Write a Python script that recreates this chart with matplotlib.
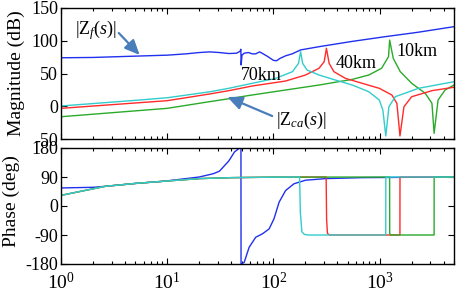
import matplotlib
matplotlib.use("Agg")
import matplotlib.pyplot as plt
import numpy as np

plt.rcParams['font.family'] = ['Liberation Serif', 'DejaVu Serif']
plt.rcParams['mathtext.fontset'] = 'custom'
plt.rcParams['mathtext.rm'] = 'Liberation Serif'
plt.rcParams['mathtext.it'] = 'Liberation Serif:italic'
plt.rcParams['axes.unicode_minus'] = False

# ---------------- data ----------------
# |Zf(s)| magnitude (blue)
f_zf = [1, 2, 5, 10, 15, 20, 25, 31, 38, 45, 48.5, 49.3, 49.6, 50.5, 53, 58, 63, 68, 74,
        80, 88, 100, 107, 115, 130, 150, 180, 270, 550, 1100, 2300, 5000]
m_zf = [74, 74.5, 76.5, 78, 80, 82, 83, 82, 80.5, 81, 84, 87, 63, 78, 81, 82, 80, 80, 83,
        80, 76, 70, 69.5, 73, 77, 80, 86, 91, 99, 106, 113, 121.5]

# |Zca(s)| magnitude, 70 km (cyan)
f_70 = [1, 5.5, 10, 25, 38, 63, 105, 151, 172, 180, 188, 207, 268, 383, 551, 788, 990,
        1070, 1140, 1220, 1400, 2320, 5000]
m_70 = [0.4, 9.5, 13, 22, 27.4, 35, 42.6, 52.8, 65.5, 83.3, 65.5, 55.3, 47.7, 40, 32.4,
        22.2, 9.5, -5.7, -45.4, -0.7, 14.6, 27.4, 37.5]

# 40 km (red)
f_40 = [1, 10, 25, 38, 63, 130, 200, 268, 300, 315, 334, 370, 475, 685, 990, 1300, 1450,
        1550, 1690, 2000, 3100, 5000]
m_40 = [-3.2, 8.5, 18.7, 23.8, 30.9, 38.5, 47.7, 57.9, 68, 88.5, 65.5, 52.8, 42.6, 35,
        27.4, 17.2, 4.5, -45.4, -0.7, 14.6, 23.8, 29]

# 10 km (green)
f_10 = [1, 10, 25, 38, 63, 130, 268, 551, 788, 1040, 1210, 1240, 1340, 1560, 2000, 2680,
        3100, 3250, 3540, 4120, 5000]
m_10 = [-16, -3.2, 7, 11.5, 17.2, 24.8, 32.4, 41, 47.7, 57.9, 75.7, 101, 73.2, 52.8, 35,
        19.8, 4.5, -41.3, 9.5, 24.8, 32.4]

# phase of Zf (blue)
fp_zf = [1, 2, 2.6, 5, 9.4, 20, 27, 31, 38, 43, 48, 49.4, 49.5, 53, 59, 68, 79, 91, 101,
         113, 130, 156, 200, 310, 685, 5000]
p_zf = [56, 58, 61, 70, 77, 90, 100, 108, 140, 168, 180, 180, -180, -175, -128, -97, -86,
        -71, -40, 12, 48, 69, 80, 85, 88, 90]

# phase of Zca (common low-frequency part then per-cable)
fp_70 = [1, 2.6, 5, 9.4, 20, 40, 100, 176, 179, 185, 195, 210, 1139, 1141, 5000]
p_70 = [33, 61, 70, 77, 85, 88, 89.5, 90, -20, -80, -88, -90, -90, 90, 90]

fp_40 = [1, 2.6, 5, 9.4, 20, 40, 100, 313, 316, 322, 335, 1549, 1551, 5000]
p_40 = [33, 61, 70, 77, 85, 88, 89.5, 90, -40, -85, -90, -90, 90, 90]

fp_10 = [1, 2.6, 5, 9.4, 20, 40, 100, 1239, 1241, 1260, 3249, 3251, 5000]
p_10 = [33, 61, 70, 77, 85, 88, 89.5, 90, -85, -90, -90, 90, 90]

mag_yticks = [150, 100, 50, 0, -50]
ph_yticks = [180, 90, 0, -90, -180]

C_BLUE = '#2030ee'
C_RED = '#ff2a2a'
C_GREEN = '#2aaa2a'
C_CYAN = '#33cccc'
C_ARROW = '#4a7ebb'

# ---------------- figure ----------------
W, H = 457, 292
fig = plt.figure(figsize=(W / 100, H / 100), dpi=100)

def ax_rect(x0, y0, x1, y1):
    return [x0 / W, 1 - y1 / H, (x1 - x0) / W, (y1 - y0) / H]

ax1 = fig.add_axes(ax_rect(61, 8, 454, 139))
ax2 = fig.add_axes(ax_rect(61, 148, 454, 264))

lw = 1.0
ax1.plot(f_10, m_10, color=C_GREEN, lw=lw)
ax1.plot(f_40, m_40, color=C_RED, lw=lw)
ax1.plot(f_70, m_70, color=C_CYAN, lw=lw)
ax1.plot(f_zf, m_zf, color=C_BLUE, lw=lw)

ax2.plot(fp_zf, p_zf, color=C_BLUE, lw=lw)
ax2.plot(fp_40, p_40, color=C_RED, lw=lw)
ax2.plot(fp_10, p_10, color=C_GREEN, lw=lw)
ax2.plot(fp_70, p_70, color=C_CYAN, lw=lw)

for ax in (ax1, ax2):
    ax.set_xscale('log')
    ax.set_xlim(1, 5000)
    ax.tick_params(which='both', direction='in', top=True, right=True,
                   labelsize=13, pad=2, width=0.8)
    ax.tick_params(which='major', length=4)
    ax.tick_params(which='minor', length=2)
    for s in ax.spines.values():
        s.set_linewidth(1.0)

ax1.set_ylim(-50, 150)
ax1.set_yticks(mag_yticks)
ax1.tick_params(labelbottom=False)
ax2.set_ylim(-180, 180)
ax2.set_yticks(ph_yticks)
ax2.set_xticks([1, 10, 100, 1000])
ax2.tick_params(axis='x', which='major', labelsize=14, pad=6)

ax1.set_ylabel('Magnitude (dB)', fontsize=14)
ax1.yaxis.set_label_coords(-0.092, 0.5)
ax2.set_ylabel('Phase (deg)', fontsize=14)
ax2.yaxis.set_label_coords(-0.104, 0.54)

# annotations
def fx(px):
    return 10 ** ((px - 61) / 106.67)

def my(py):
    return 150 - (py - 8) / 0.655

ax1.text(fx(96), my(30), r'$|\mathrm{Z}_f(s)|$', fontsize=13, ha='center', va='center')
ax1.annotate('', xy=(fx(140), my(55)), xytext=(fx(119), my(33)),
             arrowprops=dict(arrowstyle='-|>,head_length=0.9,head_width=0.4',
                             color=C_ARROW, lw=1.6, shrinkA=0, shrinkB=0))
ax1.text(fx(302), my(120), r'$|\mathrm{Z}_{ca}(s)|$', fontsize=13, ha='center', va='center')
ax1.annotate('', xy=(fx(228), my(97)), xytext=(fx(273), my(116)),
             arrowprops=dict(arrowstyle='-|>,head_length=0.9,head_width=0.4',
                             color=C_ARROW, lw=1.6, shrinkA=0, shrinkB=0))
ax1.text(fx(262), my(75), '70km', fontsize=13, ha='center', va='center')
ax1.text(fx(357), my(63), '40km', fontsize=13, ha='center', va='center')
ax1.text(fx(418), my(52), '10km', fontsize=13, ha='center', va='center')

fig.savefig('out.png', dpi=100)
